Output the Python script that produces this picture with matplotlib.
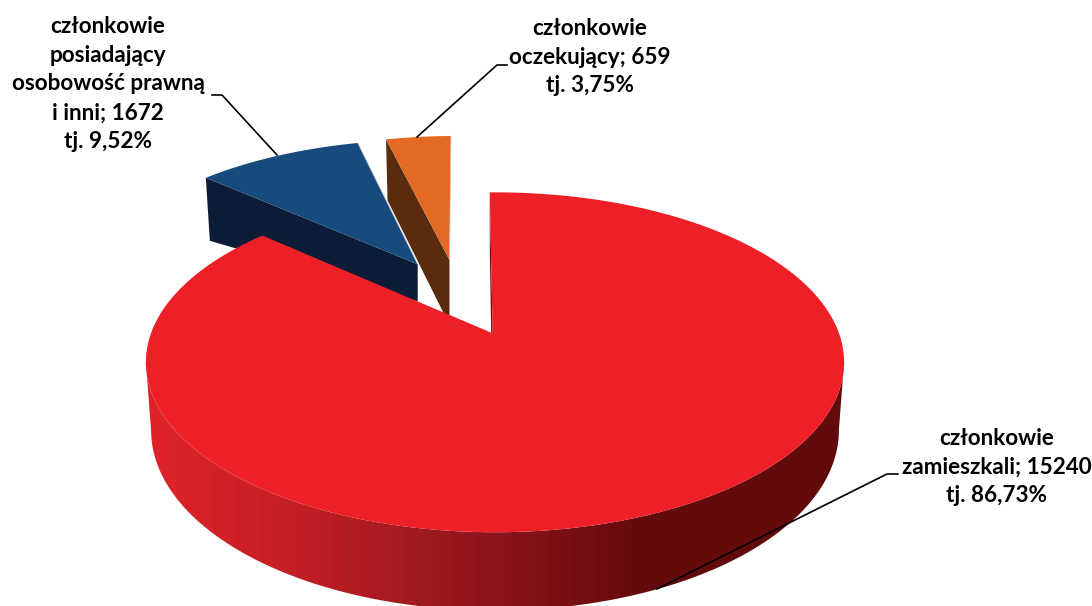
import numpy as np
import matplotlib
matplotlib.use("Agg")
import matplotlib.pyplot as plt
from matplotlib.colors import ListedColormap

# Data
names = ["członkowie\nzamieszkali", "członkowie\nposiadający\nosobowość prawną\ni inni", "członkowie\noczekujący"]
values = [15240, 1672, 659]
percents = ["86,73", "9,52", "3,75"]

# Colours
top_colors = ["#ee1f26", "#174b7d", "#e26a25"]
side_colors = [None, "#0d1c36", "#5a2c0e"]
grad_x = [150, 300, 430, 550, 640, 850]
grad_rgb = [(222, 36, 42), (192, 30, 36), (155, 26, 30), (125, 15, 20), (98, 10, 12), (98, 10, 12)]

# Layout of the 3D pie, in pixels
START_DEG = -1.03
RIM_X, APEX_X, APEX_Y = 495, 492.7, 333.3
A, B, K = 344, 165, -0.1706
# apex x, apex y, rim dx, x scale, y scale, depth at rim, depth at apex, side shift
explode = {
    1: (417.7, 264.3, 11, 0.958, 0.885, 63, 37, 4),
    2: (449.5, 260, 6.4, 0.943, 0.88, 61, 65, 1.5),
}


def rim(deg):
    t = np.radians(deg)
    u, v = np.sin(t), -np.cos(t)
    d = 1 + K * v
    return A * u / d, B * v / d


plt.rcParams["font.family"] = ["Lato", "DejaVu Sans"]
fig = plt.figure(figsize=(10.92, 6.06), dpi=100)
ax = fig.add_axes([0, 0, 1, 1])
ax.set_xlim(0, 1092)
ax.set_ylim(606, 0)
ax.axis("off")

# Slice angles follow from the values
edges = START_DEG + np.cumsum([0] + values) / sum(values) * 360

# Exploded slices, orange behind blue
for i in [2, 1]:
    x0, y0, rdx, sx, sy, d_rim, d_apex, shift = explode[i]
    deg = np.linspace(edges[i], edges[i + 1], 40)
    dx, dy = rim(deg)
    px = x0 + rdx + sx * dx
    py = y0 + sy * dy
    # side face along the first radius
    ax.fill([px[0], x0, x0, px[0] + shift], [py[0], y0, y0 + d_apex, py[0] + d_rim],
            color=side_colors[i], lw=0)
    ax.fill(np.r_[x0, px], np.r_[y0, py], color=top_colors[i], lw=0)
    ax.plot([x0, px[-1]], [y0, py[-1]], color="#c8c8c8", lw=0.5)

# Red slice
deg = np.linspace(edges[0], edges[1], 500)
dx, dy = rim(deg)
px = RIM_X + dx
py = APEX_Y + dy
bx = RIM_X + (px - RIM_X) * 0.985
by = 430 + (py - 362) * 1.06

# inner face on the start radius, only a sliver of it shows
ax.fill([px[0], bx[0], APEX_X - 0.5, APEX_X], [py[0], by[0], APEX_Y + 60, APEX_Y], color="#6e0a10", lw=0)

# outer wall with a left to right gradient, from the right extreme of the rim to the left one
i0, i1 = np.argmax(px), np.argmin(px)
wall = ax.fill(np.r_[px[i0:i1 + 1], bx[i0:i1 + 1][::-1]], np.r_[py[i0:i1 + 1], by[i0:i1 + 1][::-1]],
               color=top_colors[0], lw=0.5)[0]
grad_pos = np.arange(140, 860, 12)
grad_cols = np.array([[np.interp(x, grad_x, [c[k] for c in grad_rgb]) / 255 for k in range(3)] for x in grad_pos])
img = ax.imshow(np.arange(len(grad_pos))[None, :], cmap=ListedColormap(grad_cols), aspect="auto",
                extent=(140, 860, 620, 280), interpolation="nearest")
img.set_clip_path(wall)
wall.set_visible(False)
ax.set_xlim(0, 1092)
ax.set_ylim(606, 0)

ax.fill(np.r_[APEX_X, px], np.r_[APEX_Y, py], color=top_colors[0], lw=0)

# Leader lines
ax.plot([898, 887, 657], [474, 474, 589], color="black", lw=1.2)
ax.plot([212, 222, 277], [95, 95, 155], color="black", lw=1.2)
ax.plot([507, 497, 417], [65, 65, 137], color="black", lw=1.2)

# Labels
label_pos = [(997, 467), (108, 84), (590, 57)]
for name, val, pct, (x, y) in zip(names, values, percents, label_pos):
    ax.text(x, y, f"{name}; {val}\ntj. {pct}%", ha="center", va="center",
            fontsize=16.2, fontweight="bold", color="black", linespacing=1.47)

fig.savefig("out.png", dpi=100)
